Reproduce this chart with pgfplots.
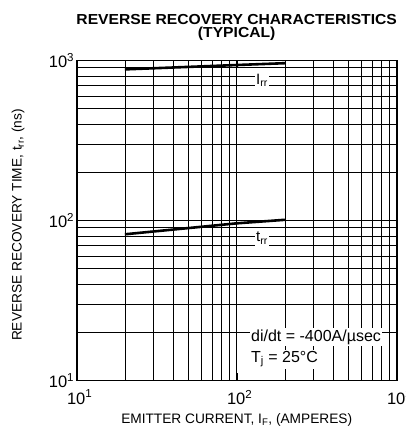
\documentclass[border=0pt]{standalone}
\usepackage{pgfplots}
\pgfplotsset{compat=1.18}
\usepackage{fontspec}
\setmainfont{Liberation Sans}
\newfontfamily\titlefont[FakeStretch=1.08]{Liberation Sans Bold}

\begin{document}
\begin{tikzpicture}
\begin{axis}[
  name=main,
  xmode=log, ymode=log,
  scale only axis, width=320pt, height=320pt,
  xmin=10, xmax=1000, ymin=10, ymax=1000,
  xtick={10,100,1000},
  xticklabels={10\textsuperscript{1},10\textsuperscript{2},10\textsuperscript{3}},
  ytick={10,100,1000},
  yticklabels={10\textsuperscript{1},10\textsuperscript{2},10\textsuperscript{3}},
  grid=both,
  major grid style={black, line width=0.9pt},
  minor grid style={black, line width=0.7pt},
  tick align=inside,
  major tick length=8pt, minor tick length=0pt,
  major tick style={black, line width=1.6pt},
  axis line style={black, line width=1.8pt},
  tick label style={font=\fontsize{16.5}{16.5}\selectfont},
  xticklabel style={yshift=-6pt, xshift=3pt},
  yticklabel style={xshift=1pt},
  title={REVERSE RECOVERY CHARACTERISTICS\\(TYPICAL)},
  title style={font=\titlefont\fontsize{14.5}{13.5}\selectfont, align=center,
    at={(0.5,1)}, anchor=south, yshift=10pt},
  xlabel={EMITTER CURRENT, I\textsubscript{F}, (AMPERES)},
  xlabel style={font=\fontsize{13.7}{13.7}\selectfont,
    at={(axis description cs:0.5,-0.123)}, anchor=center},
  ylabel={REVERSE RECOVERY TIME, t\textsubscript{rr}, (ns)},
  ylabel style={font=\fontsize{13.7}{13.7}\selectfont,
    at={(axis description cs:-0.183,0.486)}, anchor=center},
]
% I_rr curve
\addplot[black, line width=2.6pt] coordinates {(20,880) (100,937) (200,962)};
% t_rr curve
\addplot[black, line width=2.6pt] coordinates {(20,82) (100,96) (200,101)};

\node[fill=white, inner sep=1.5pt, font=\fontsize{15}{15}\selectfont]
  at (rel axis cs:0.579,0.9375) {I\textsubscript{rr}};
\node[fill=white, inner sep=1.5pt, font=\fontsize{15}{15}\selectfont]
  at (rel axis cs:0.579,0.445) {t\textsubscript{rr}};
\node[fill=white, inner sep=1.5pt, anchor=west, font=\fontsize{16}{16}\selectfont]
  at (rel axis cs:0.540,0.136) {di/dt = -400A/µsec};
\node[fill=white, inner sep=1.5pt, anchor=west, font=\fontsize{16}{16}\selectfont]
  at (rel axis cs:0.540,0.067) {T\textsubscript{j} = 25°C};
\end{axis}
\pgfresetboundingbox
\path[use as bounding box]
  ([xshift=-76.7pt,yshift=-50.5pt]main.south west)
  rectangle ([xshift=329.3pt,yshift=380.5pt]main.south west);
\end{tikzpicture}
\end{document}
